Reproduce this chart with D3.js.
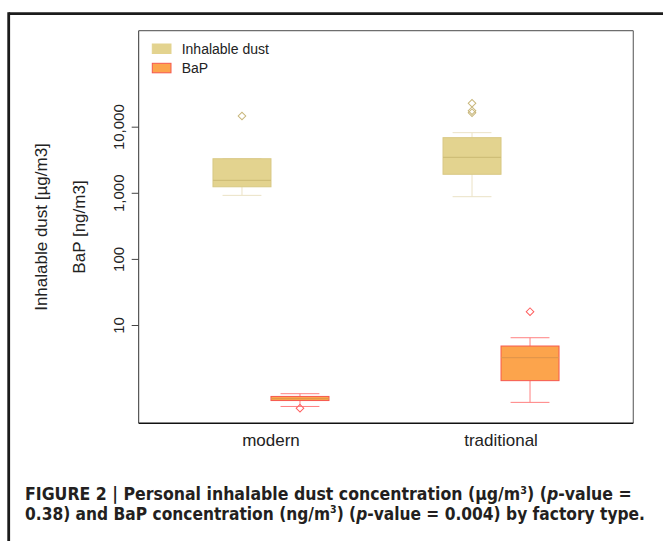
<!DOCTYPE html>
<html>
<head>
<meta charset="utf-8">
<script src="https://cdn.jsdelivr.net/npm/d3@7"></script>
<style>
  body { margin: 0; background: #fff; }
  svg { display: block; font-family: "Liberation Sans", Arial, sans-serif; }
</style>
</head>
<body>
<div id="chart"></div>
<script>
// Categories and series
var categories = ["modern", "traditional"];
var seriesNames = ["Inhalable dust", "BaP"];

// Inhalable dust [ug/m3], per category
var dustLow = [914, 873];
var dustQ1 = [1233, 1905];
var dustMedian = [1541, 3443];
var dustQ3 = [3273, 6820];
var dustHigh = [3273, 8117];
var dustOutliers = [[14500], [22600, 17460, 16280]];

// BaP [ng/m3], per category
var bapLow = [0.586, 0.676];
var bapQ1 = [0.72, 1.44];
var bapMedian = [0.77, 3.20];
var bapQ3 = [0.831, 4.81];
var bapHigh = [0.914, 6.42];
var bapOutliers = [[0.552], [15.9]];

var yTicks = [10, 100, 1000, 10000];

// Colours per series
var styles = {
    "Inhalable dust": { fill: "#e3d38f", stroke: "#d8c884", median: "#cfbe78", whisker: "#ebe2c6", outlier: "#c9b77c" },
    "BaP": { fill: "#fca44c", stroke: "#f6584e", median: "#e3964a", whisker: "#ff8080", outlier: "#ff5f5f" }
};

// Build box rows from the arrays
var boxes = [];
categories.forEach(function(c, i) {
    boxes.push({ cat: c, series: "Inhalable dust", low: dustLow[i], q1: dustQ1[i], med: dustMedian[i], q3: dustQ3[i], high: dustHigh[i], out: dustOutliers[i] });
    boxes.push({ cat: c, series: "BaP", low: bapLow[i], q1: bapQ1[i], med: bapMedian[i], q3: bapQ3[i], high: bapHigh[i], out: bapOutliers[i] });
});

var W = 663, H = 541;
var plot = { left: 138.7, right: 633.3, top: 30.7, bottom: 423.3 };

var svg = d3.select("#chart").append("svg")
    .attr("width", W)
    .attr("height", H);

// Outer figure frame (top and left rules)
svg.append("line").attr("x1", 8.7).attr("x2", W).attr("y1", 13.7).attr("y2", 13.7)
    .attr("stroke", "#1c1c1c").attr("stroke-width", 2.8);
svg.append("line").attr("x1", 8.7).attr("x2", 8.7).attr("y1", 12.3).attr("y2", H)
    .attr("stroke", "#1c1c1c").attr("stroke-width", 2.8);

// Scales
var xScale = d3.scalePoint()
    .domain(categories)
    .range([plot.left, plot.right])
    .padding(0.575);

var xInner = d3.scaleBand()
    .domain(seriesNames)
    .range([-58, 58]);

var yScale = d3.scaleLog()
    .domain([0.326, 283000])
    .range([plot.bottom, plot.top]);

// Plot box
svg.append("line").attr("x1", plot.left).attr("x2", plot.right).attr("y1", plot.top).attr("y2", plot.top)
    .attr("stroke", "#6e6e6e").attr("stroke-width", 1.2);
svg.append("line").attr("x1", plot.right).attr("x2", plot.right).attr("y1", plot.top).attr("y2", plot.bottom)
    .attr("stroke", "#6e6e6e").attr("stroke-width", 1.2);
svg.append("line").attr("x1", plot.left).attr("x2", plot.left).attr("y1", plot.top).attr("y2", plot.bottom)
    .attr("stroke", "#333").attr("stroke-width", 1);
svg.append("line").attr("x1", plot.left).attr("x2", plot.right).attr("y1", plot.bottom).attr("y2", plot.bottom)
    .attr("stroke", "#111").attr("stroke-width", 1.4);

// Y axis
var yAxis = d3.axisLeft(yScale)
    .tickValues(yTicks)
    .tickFormat(d3.format(","))
    .tickSize(7)
    .tickSizeOuter(0);

var gy = svg.append("g")
    .attr("transform", "translate(" + plot.left + ",0)")
    .call(yAxis);
gy.select(".domain").remove();
gy.selectAll(".tick line").attr("stroke", "#444");
gy.selectAll(".tick text")
    .attr("x", 0).attr("dy", null)
    .attr("transform", "translate(-15,0) rotate(-90)")
    .attr("text-anchor", "middle")
    .attr("font-size", 15)
    .attr("font-family", "Liberation Sans, Arial, sans-serif")
    .attr("fill", "#222");

// X labels
svg.selectAll(".xlab")
    .data(categories)
    .enter().append("text")
    .attr("class", "xlab")
    .attr("x", function(d) { return xScale(d); })
    .attr("y", 446)
    .attr("text-anchor", "middle")
    .attr("font-size", 17)
    .attr("fill", "#222")
    .text(function(d) { return d; });

// Y titles
var midY = (plot.top + plot.bottom) / 2;
svg.append("text")
    .attr("transform", "translate(47," + midY + ") rotate(-90)")
    .attr("text-anchor", "middle")
    .attr("font-size", 17)
    .attr("fill", "#222")
    .text("Inhalable dust [µg/m3]");
svg.append("text")
    .attr("transform", "translate(85," + midY + ") rotate(-90)")
    .attr("text-anchor", "middle")
    .attr("font-size", 17)
    .attr("fill", "#222")
    .text("BaP [ng/m3]");

// Boxes
var g = svg.selectAll(".box")
    .data(boxes)
    .enter().append("g")
    .attr("class", "box")
    .attr("transform", function(d) { return "translate(" + (xScale(d.cat) + xInner(d.series)) + ",0)"; });

var bw = xInner.bandwidth();
var cw = bw * 0.67;

// whiskers
g.append("line")
    .attr("x1", bw / 2).attr("x2", bw / 2)
    .attr("y1", function(d) { return yScale(d.low); })
    .attr("y2", function(d) { return yScale(d.q1); })
    .attr("stroke", function(d) { return styles[d.series].whisker; });
g.append("line")
    .attr("x1", bw / 2).attr("x2", bw / 2)
    .attr("y1", function(d) { return yScale(d.q3); })
    .attr("y2", function(d) { return yScale(d.high); })
    .attr("stroke", function(d) { return styles[d.series].whisker; });
g.append("line")
    .attr("x1", (bw - cw) / 2).attr("x2", (bw + cw) / 2)
    .attr("y1", function(d) { return yScale(d.low); })
    .attr("y2", function(d) { return yScale(d.low); })
    .attr("stroke", function(d) { return styles[d.series].whisker; });
g.append("line")
    .attr("x1", (bw - cw) / 2).attr("x2", (bw + cw) / 2)
    .attr("y1", function(d) { return yScale(d.high); })
    .attr("y2", function(d) { return yScale(d.high); })
    .attr("stroke", function(d) { return styles[d.series].whisker; });

// box body
g.append("rect")
    .attr("x", 0)
    .attr("width", bw)
    .attr("y", function(d) { return yScale(d.q3); })
    .attr("height", function(d) { return yScale(d.q1) - yScale(d.q3); })
    .attr("fill", function(d) { return styles[d.series].fill; })
    .attr("stroke", function(d) { return styles[d.series].stroke; })
    .attr("stroke-width", 1);

// median
g.append("line")
    .attr("x1", 0).attr("x2", bw)
    .attr("y1", function(d) { return yScale(d.med); })
    .attr("y2", function(d) { return yScale(d.med); })
    .attr("stroke", function(d) { return styles[d.series].median; })
    .attr("stroke-width", 1.2);

// outliers
var diamond = d3.symbol().type(d3.symbolSquare).size(29);
g.selectAll(".out")
    .data(function(d) { return d.out.map(function(v) { return { v: v, series: d.series }; }); })
    .enter().append("path")
    .attr("class", "out")
    .attr("d", diamond)
    .attr("transform", function(o) { return "translate(" + (bw / 2) + "," + yScale(o.v) + ") rotate(45)"; })
    .attr("fill", "none")
    .attr("stroke", function(o) { return styles[o.series].outlier; })
    .attr("stroke-width", 1);

// Legend
var legend = svg.selectAll(".legend")
    .data(seriesNames)
    .enter().append("g")
    .attr("class", "legend")
    .attr("transform", function(d, i) { return "translate(152.3," + (44 + i * 19.3) + ")"; });
legend.append("rect")
    .attr("width", 18.7).attr("height", 9.5)
    .attr("fill", function(d) { return styles[d].fill; })
    .attr("stroke", function(d) { return d === "BaP" ? styles[d].stroke : styles[d].fill; });
legend.append("text")
    .attr("x", 29.4).attr("y", 10)
    .attr("font-size", 14)
    .attr("fill", "#222")
    .text(function(d) { return d; });

// Caption
var capFont = "'Liberation Sans Narrow', 'DejaVu Sans Condensed', 'Liberation Sans', Arial, sans-serif";
function caption(y, len, parts) {
    var t = svg.append("text")
        .attr("x", 25).attr("y", y)
        .attr("font-family", capFont)
        .attr("font-weight", "bold")
        .attr("font-size", 18)
        .attr("fill", "#231f20")
        .attr("textLength", len)
        .attr("lengthAdjust", "spacingAndGlyphs");
    parts.forEach(function(p) {
        var s = t.append("tspan").text(p.t);
        if (p.i) s.attr("font-style", "italic");
        if (p.sup) s.attr("font-size", 11).attr("dy", -6.5);
        if (p.down) s.attr("dy", 6.5);
    });
}
caption(500, 606.7, [
    { t: "FIGURE 2 | Personal inhalable dust concentration (\u03bcg/m" },
    { t: "3", sup: true },
    { t: ") (", down: true },
    { t: "p", i: true },
    { t: "-value =" }
]);
caption(519.5, 620, [
    { t: "0.38) and BaP concentration (ng/m" },
    { t: "3", sup: true },
    { t: ") (", down: true },
    { t: "p", i: true },
    { t: "-value = 0.004) by factory type." }
]);
</script>
</body>
</html>
